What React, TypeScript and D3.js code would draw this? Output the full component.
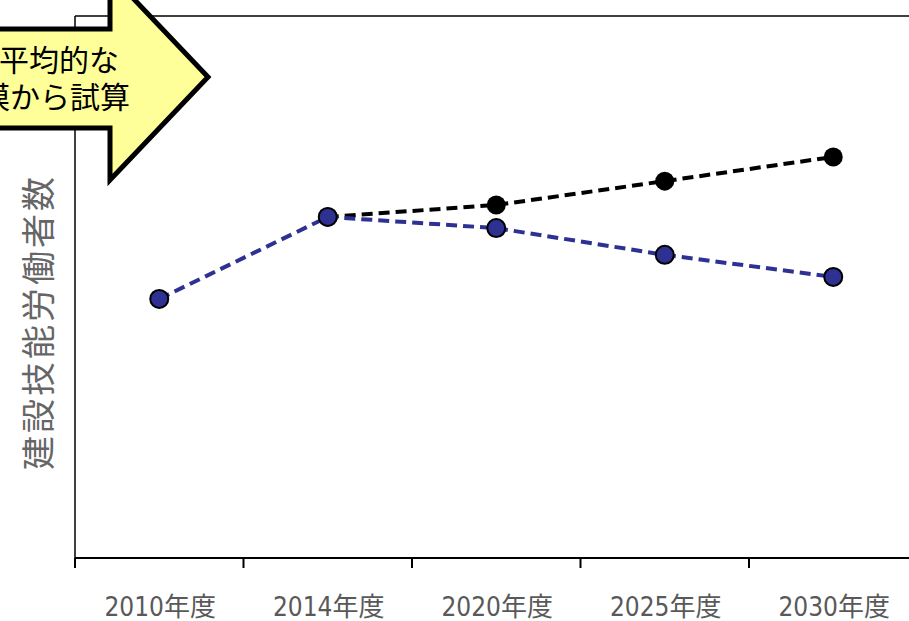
import React from "react";
import * as d3 from "d3";

const categories = ["2010年度", "2014年度", "2020年度", "2025年度", "2030年度"];
const seriesBlue = [321.7, 344.4, 341.3, 333.9, 327.8];
const seriesBlack = [null, 344.4, 347.7, 354.3, 361.0];
const yLabel = "建設技能労働者数";
const arrowLine1 = "過去の平均的な";
const arrowLine2 = "市場規模から試算";
const titleText = "建設技能労働者の将来推計";

const W = 909;
const H = 621;
const plot = { left: 75, top: 16, right: 917.5, bottom: 558 };

export default function App() {
  const x = d3.scaleBand<string>().domain(categories).range([plot.left, plot.right]).paddingInner(0).paddingOuter(0);
  const y = d3.scaleLinear().domain([250, 400]).range([plot.bottom, plot.top]);
  const cx = (c: string) => (x(c) as number) + x.bandwidth() / 2;

  const blueData = categories.map((c, i) => ({ c, v: seriesBlue[i] }));
  const blackData = categories.map((c, i) => ({ c, v: seriesBlack[i] })).filter((d) => d.v !== null) as { c: string; v: number }[];

  const line = d3
    .line<{ c: string; v: number }>()
    .x((d) => cx(d.c))
    .y((d) => y(d.v));

  const tickXs = categories.map((c) => x(c) as number);

  // arrow geometry
  const ax0 = -40, ay1 = 29, ay2 = 128, ahx = 110, ahTop = -26, ahBot = 180, tipX = 208, tipY = 77;
  const arrowPath = `M${ax0},${ay1} L${ahx},${ay1} L${ahx},${ahTop} L${tipX},${tipY} L${ahx},${ahBot} L${ahx},${ay2} L${ax0},${ay2} Z`;

  const font = "'Noto Sans CJK JP', 'Noto Sans', sans-serif";

  return (
    <svg width={W} height={H} style={{ position: "absolute", left: 0, top: 0, background: "#fff" }} fontFamily={font}>
      <rect x={0} y={0} width={W} height={H} fill="#fff" />
      <text x={490} y={-3} textAnchor="middle" fontSize={28} fontWeight="bold" fill="#000">
        {titleText}
      </text>
      {/* plot frame */}
      <line x1={plot.left} y1={plot.top} x2={W} y2={plot.top} stroke="#000" strokeWidth={1.5} />
      <line x1={plot.left} y1={plot.top} x2={plot.left} y2={plot.bottom} stroke="#000" strokeWidth={1.5} />
      <line x1={plot.left} y1={plot.bottom} x2={W} y2={plot.bottom} stroke="#000" strokeWidth={2} />
      {tickXs.map((tx, i) => (
        <line key={i} x1={tx} y1={plot.bottom} x2={tx} y2={plot.bottom + 10} stroke="#000" strokeWidth={2} />
      ))}
      {categories.map((c) => (
        <text key={c} x={cx(c) + 1} y={616} textAnchor="middle" fontSize={26} fill="#595959" fontFamily="'DejaVu Sans Condensed', 'Noto Sans CJK JP', sans-serif">
          {c}
        </text>
      ))}
      <text
        transform={`translate(51, 322) rotate(-90)`}
        textAnchor="middle"
        fontSize={34}
        fill="#666"
        letterSpacing={3}
      >
        {yLabel}
      </text>

      {/* black series */}
      <path d={line(blackData) || ""} fill="none" stroke="#000" strokeWidth={4} strokeDasharray="11 6" />
      {blackData.map((d) => (
        <circle key={d.c} cx={cx(d.c)} cy={y(d.v)} r={9.5} fill="#000" />
      ))}
      {/* blue series */}
      <path d={line(blueData) || ""} fill="none" stroke="#2E3192" strokeWidth={4} strokeDasharray="11 6" />
      {blueData.map((d) => (
        <circle key={d.c} cx={cx(d.c)} cy={y(d.v)} r={9} fill="#2E3192" stroke="#000" strokeWidth={2} />
      ))}

      {/* arrow callout */}
      <path d={arrowPath} fill="#FFFF99" stroke="#000" strokeWidth={5} strokeLinejoin="miter" />
      <text x={119} y={71} textAnchor="end" fontSize={30} fill="#000">
        {arrowLine1}
      </text>
      <text x={130} y={108} textAnchor="end" fontSize={30} fill="#000">
        {arrowLine2}
      </text>
    </svg>
  );
}
